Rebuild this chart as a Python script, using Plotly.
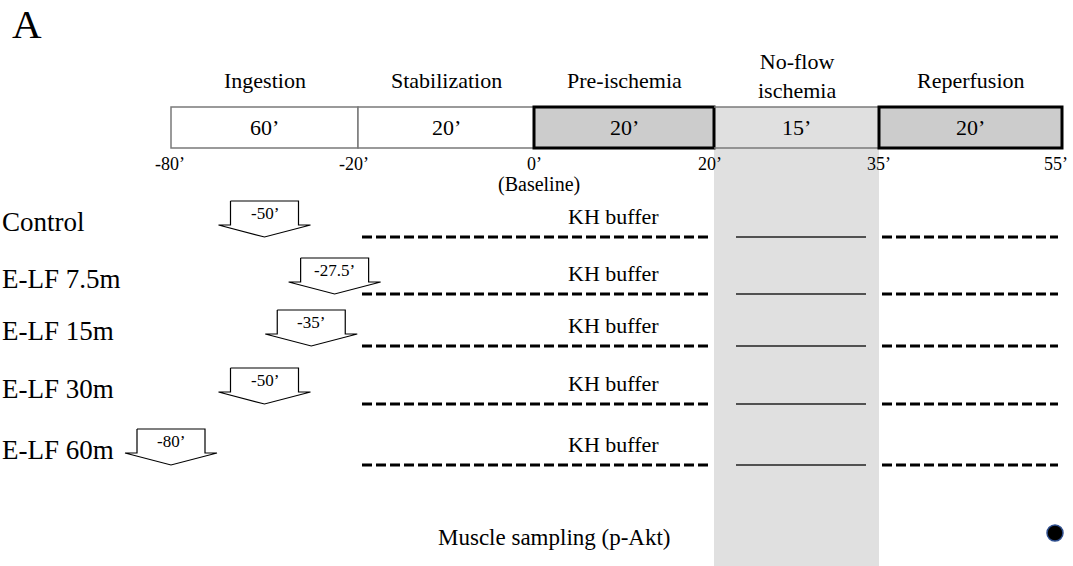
import numpy as np
import plotly.graph_objects as go

# ---------------- data ----------------
phases = ["Ingestion", "Stabilization", "Pre-ischemia", "No-flow<br>ischemia", "Reperfusion"]
durations = ["60’", "20’", "20’", "15’", "20’"]
boundary_times = [-80, -20, 0, 20, 35, 55]
boundary_labels = ["-80’", "-20’", "0’", "20’", "35’", "55’"]
groups = ["Control", "E-LF 7.5m", "E-LF 15m", "E-LF 30m", "E-LF 60m"]
ingestion_start = [-50, -27.5, -35, -50, -80]
ingestion_labels = ["-50’", "-27.5’", "-35’", "-50’", "-80’"]
buffer_label = "KH buffer"
sampling_label = "Muscle sampling (p-Akt)"

# ---------------- layout / style constants ----------------
W, H = 1073, 566
boundary_px = [171, 358, 534, 714, 879, 1062]   # display position of each boundary
row_px = [237, 294, 346, 404, 465]              # display row positions
box_top, box_bot = 107, 148
FONT = "Liberation Serif"
DARK = "#cccccc"
LIGHT = "#e0e0e0"


def tx(t):
    return float(np.interp(t, boundary_times, boundary_px))


fig = go.Figure()
shapes = []
annotations = []

# ischemia column
shapes.append(dict(type="rect", x0=boundary_px[3], x1=boundary_px[4], y0=box_top, y1=H,
                   fillcolor=LIGHT, line=dict(width=0), layer="below"))

# phase boxes
for i, ph in enumerate(phases):
    x0, x1 = boundary_px[i], boundary_px[i + 1]
    if i < 2:
        shapes.append(dict(type="rect", x0=x0, x1=x1, y0=box_top, y1=box_bot,
                           fillcolor="white", line=dict(color="#7a7a7a", width=1.5)))
    elif i == 3:
        for yy in (box_top, box_bot):
            shapes.append(dict(type="line", x0=x0, x1=x1, y0=yy, y1=yy,
                               line=dict(color="#7a7a7a", width=1.5)))
    else:
        shapes.append(dict(type="rect", x0=x0, x1=x1, y0=box_top, y1=box_bot,
                           fillcolor=DARK, line=dict(color="black", width=3)))
    cx = (x0 + x1) / 2
    annotations.append(dict(x=cx, y=(box_top + box_bot) / 2, text=durations[i],
                            showarrow=False, font=dict(size=22, family=FONT, color="black")))
    annotations.append(dict(x=cx, y=76 if i == 3 else 80, text=ph, showarrow=False,
                            yanchor="middle",
                            font=dict(size=22, family=FONT, color="black")))

# boundary tick labels
tick_shift = [-1, -4, 0, -4, 0, -6]
for i, lab in enumerate(boundary_labels):
    annotations.append(dict(x=boundary_px[i] + tick_shift[i], y=164, text=lab, showarrow=False,
                            font=dict(size=18, family=FONT, color="black")))
annotations.append(dict(x=tx(0) + 5, y=184, text="(Baseline)", showarrow=False,
                        font=dict(size=20, family=FONT, color="black")))

# rows
for k, g in enumerate(groups):
    ry = row_px[k]
    annotations.append(dict(x=0, y=ry - 15, text=g, showarrow=False, xanchor="left",
                            font=dict(size=27, family=FONT, color="black")))
    # pre-ischemia dashed line
    fig.add_trace(go.Scatter(x=[tx(-20) + 4, tx(20) - 4], y=[ry, ry], mode="lines",
                             line=dict(color="black", width=3, dash="10px,4px"),
                             hoverinfo="skip", showlegend=False))
    # ischemia solid line
    fig.add_trace(go.Scatter(x=[tx(20) + 22, tx(35) - 13], y=[ry, ry], mode="lines",
                             line=dict(color="#222222", width=1.5),
                             hoverinfo="skip", showlegend=False))
    # reperfusion dashed line
    fig.add_trace(go.Scatter(x=[tx(35) + 3, tx(55) - 4], y=[ry, ry], mode="lines",
                             line=dict(color="black", width=3, dash="10px,4px"),
                             hoverinfo="skip", showlegend=False))
    annotations.append(dict(x=(tx(0) + tx(20)) / 2 - 11, y=ry - 21, text=buffer_label,
                            showarrow=False,
                            font=dict(size=22, family=FONT, color="black")))
    # ingestion arrow
    cx = tx(ingestion_start[k])
    bw, ww = 34, 46
    top, wing, tip = ry - 36, ry - 12, ry
    ax = [cx - bw, cx + bw, cx + bw, cx + ww, cx, cx - ww, cx - bw, cx - bw]
    ay = [top, top, wing, wing, tip, wing, wing, top]
    fig.add_trace(go.Scatter(x=ax, y=ay, mode="lines", fill="toself", fillcolor="white",
                             line=dict(color="black", width=1.2),
                             hoverinfo="skip", showlegend=False))
    annotations.append(dict(x=cx, y=top + 12, text=ingestion_labels[k], showarrow=False,
                            font=dict(size=17, family=FONT, color="black")))

# muscle sampling
annotations.append(dict(x=554, y=537, text=sampling_label, showarrow=False,
                        font=dict(size=23, family=FONT, color="black")))
fig.add_trace(go.Scatter(x=[tx(55) - 7], y=[533], mode="markers",
                         marker=dict(size=16, color="black",
                                     line=dict(color="#2f4f8f", width=1.5)),
                         hoverinfo="skip", showlegend=False))

# panel letter
annotations.append(dict(x=10, y=24, text="A", showarrow=False, xanchor="left",
                        font=dict(size=41, family=FONT, color="black")))

fig.update_layout(
    width=W, height=H,
    margin=dict(l=0, r=0, t=0, b=0),
    paper_bgcolor="white", plot_bgcolor="white",
    xaxis=dict(range=[0, W], visible=False, fixedrange=True),
    yaxis=dict(range=[H, 0], visible=False, fixedrange=True),
    shapes=shapes, annotations=annotations,
    showlegend=False,
)

fig.write_html("out.html", config={"displayModeBar": False},
               post_script="document.body.style.margin='0';document.body.style.overflow='hidden';")
